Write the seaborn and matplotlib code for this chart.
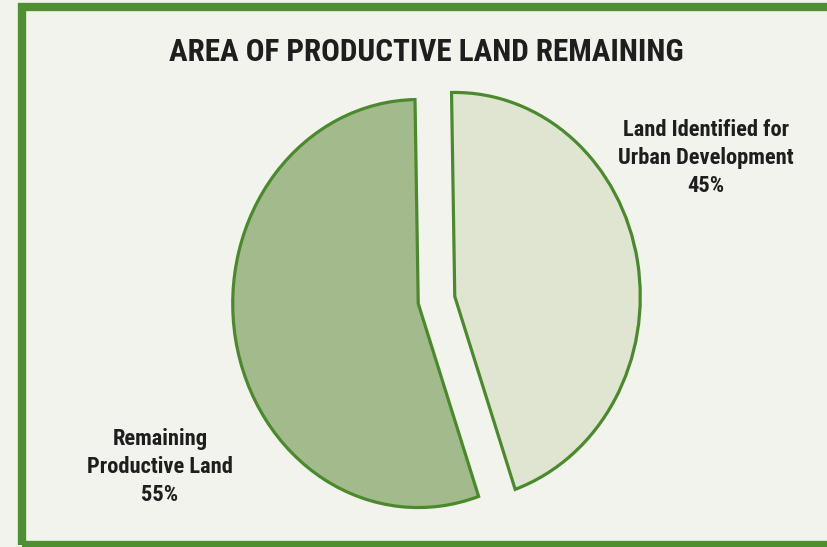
import matplotlib
matplotlib.use("Agg")
import matplotlib.pyplot as plt
from matplotlib.patches import Rectangle
import seaborn as sns

# Land use shares (percent)
categories = ["Remaining\nProductive Land", "Land Identified for\nUrban Development"]
shares = [55, 45]
title = "AREA OF PRODUCTIVE LAND REMAINING"

paper = "#f3f3ed"
slice_colors = ["#a3bb8c", "#dfe5d1"]
edge_green = "#4a8a2c"
frame_green = "#4e8f32"

sns.set_theme(style="white")
font_family = ["Roboto Condensed", "Liberation Sans Narrow", "Roboto", "DejaVu Sans"]
plt.rcParams["font.family"] = font_family

W, H = 827, 547
fig = plt.figure(figsize=(W / 100, H / 100), dpi=100, facecolor=paper)

# Pie axes sized so the unit radius maps to ~185 px across and ~204 px tall
cx, cy = 436.5, 300
rx, ry = 185.5, 204
span = 1.3
ax = fig.add_axes([(cx - span * rx) / W, (H - cy - span * ry) / H,
                   2 * span * rx / W, 2 * span * ry / H])
ax.set_facecolor("none")

wedges, _ = ax.pie(
    shares,
    colors=slice_colors,
    startangle=91,
    counterclock=True,
    explode=[0.1, 0.1],
    wedgeprops=dict(edgecolor=edge_green, linewidth=2.3, joinstyle="miter"),
)
ax.set_aspect("auto")
ax.set_xlim(-span, span)
ax.set_ylim(-span, span)
ax.axis("off")


def px(x, y):
    return x / W, 1 - y / H


# Title
fig.text(*px(426, 52), title, ha="center", va="center",
         fontsize=22.4, fontweight="bold", color="#1e1e1e")

# Slice labels with their percentages
label_pos = [(160, 467), (706, 158)]
for name, value, (lx, ly) in zip(categories, shares, label_pos):
    fig.text(*px(lx, ly), f"{name}\n{value}%", ha="center", va="center",
             multialignment="center", linespacing=1.38,
             fontsize=16.2, fontweight="bold", color="#1e1e1e")

# Green frame around the panel
frame = Rectangle(px(22, 545), (832 - 22) / W, (545 - 7) / H,
                  transform=fig.transFigure, fill=False,
                  edgecolor=frame_green, linewidth=6, clip_on=False)
fig.add_artist(frame)

fig.savefig("out.png", dpi=100, facecolor=paper)
